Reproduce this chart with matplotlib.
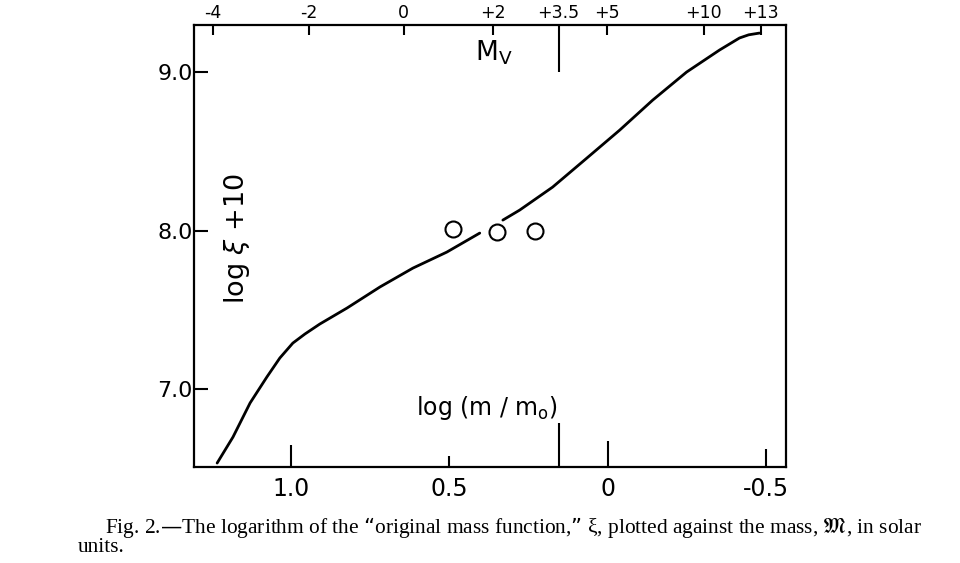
import numpy as np
import matplotlib
matplotlib.use("Agg")
from matplotlib import pyplot as plt

# curve: log(m/m_sun) vs log xi + 10 (broken near the middle circle)
logm_low = [1.233, 1.183, 1.129, 1.076, 1.035, 0.994, 0.956, 0.909, 0.823, 0.719, 0.615, 0.508, 0.404]
logxi_low = [6.533, 6.697, 6.912, 7.076, 7.196, 7.290, 7.347, 7.410, 7.511, 7.644, 7.763, 7.864, 7.984]
logm_high = [0.331, 0.278, 0.174, 0.066, -0.038, -0.142, -0.249, -0.353, -0.416, -0.445, -0.479]
logxi_high = [8.066, 8.129, 8.274, 8.457, 8.634, 8.823, 9.000, 9.139, 9.215, 9.235, 9.246]

# open circles
circ_logm = [0.489, 0.350, 0.230]
circ_logxi = [8.009, 7.991, 7.997]

# bottom axis ticks (the unlabeled long one marks M_V = +3.5)
bot_ticks = [1.0, 0.5, 0.155, 0.0, -0.5]
bot_labels = ["1.0", "0.5", "", "0", "-0.5"]
bot_len = [16, 8, 32, 19, 13]

# top axis: absolute visual magnitude, placed at the corresponding log mass
mv_pos = [1.246, 0.943, 0.644, 0.363, 0.155, 0.003, -0.303, -0.483]
mv_labels = ["-4", "-2", "0", "+2", "+3.5", "+5", "+10", "+13"]
mv_len = [7, 7, 7, 7, 34, 7, 7, 7]

y_ticks = [7.0, 8.0, 9.0]

plt.rcParams['font.family'] = ['DejaVu Sans']

fig = plt.figure(figsize=(9.6, 5.63), dpi=100)
ax = fig.add_axes([0.2021, 0.1705, 0.6167, 0.7851])

ax.plot(logm_low, logxi_low, color="black", lw=2.0, solid_capstyle="round",
        solid_joinstyle="round")
ax.plot(logm_high, logxi_high, color="black", lw=2.0, solid_capstyle="round",
        solid_joinstyle="round")
ax.plot(circ_logm, circ_logxi, linestyle="none", marker="o", markersize=11.5,
        markerfacecolor="white", markeredgecolor="black", markeredgewidth=1.5)

ax.set_xlim(1.306, -0.563)
ax.set_ylim(6.508, 9.297)

for s in ax.spines.values():
    s.set_linewidth(1.6)

ax.set_xticks(bot_ticks, bot_labels, fontsize=17)
ax.tick_params(axis="x", direction="in", width=1.5, pad=7)
for tk, ln in zip(ax.xaxis.get_major_ticks(), bot_len):
    tk.tick1line.set_markersize(ln)

ax.set_yticks(y_ticks, ["7.0", "8.0", "9.0"], fontsize=16)
ax.tick_params(axis="y", direction="in", length=10, width=1.5, pad=1)
ax.tick_params(axis="y", left=True, right=False)

# top axis
ax2 = ax.twiny()
ax2.set_xlim(ax.get_xlim())
ax2.set_xticks(mv_pos, mv_labels, fontsize=12.5)
ax2.tick_params(axis="x", direction="in", width=1.5, pad=2)
for tk, ln in zip(ax2.xaxis.get_major_ticks(), mv_len):
    tk.tick2line.set_markersize(ln)
for s in ax2.spines.values():
    s.set_visible(False)

ax.text(0.36, 9.12, r"M$_\mathrm{V}$", fontsize=19, ha="center", va="center")
ax.text(0.38, 6.88, r"log (m / m$_\mathrm{o}$)", fontsize=17, ha="center", va="center")
ax.text(1.170, 7.95, r"log $\xi$ +10", fontsize=19.5, rotation=90, ha="center", va="center")

fig.text(105 / 960, 1 - 527 / 563,
         "Fig. 2.\u2014The logarithm of the \u201coriginal mass function,\u201d \u03be, plotted against the mass, "
         r"$\mathfrak{M}$, in solar",
         family="Liberation Serif", fontsize=15.4, va="center", ha="left")
fig.text(78 / 960, 1 - 547 / 563, "units.",
         family="Liberation Serif", fontsize=15.4, va="center", ha="left")

fig.savefig("out.png", dpi=100)
